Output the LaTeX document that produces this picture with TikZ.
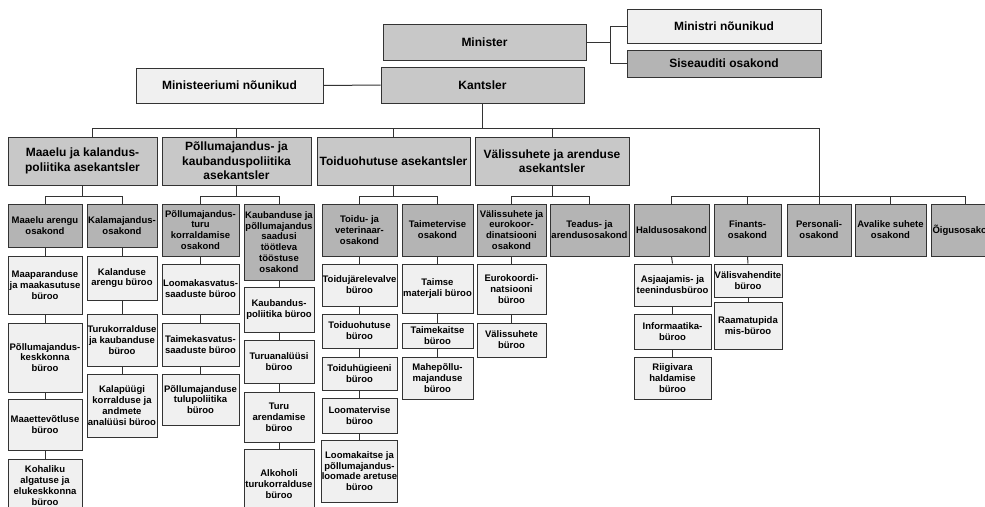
\documentclass[tikz,border=0pt]{standalone}
\usepackage{fontspec}
\setmainfont{Liberation Sans}
\usepackage{tikz}

\definecolor{leadgray}{HTML}{C8C8C8}
\definecolor{deptgray}{HTML}{B4B4B4}
\definecolor{officegray}{HTML}{F0F0F0}
\definecolor{edgegray}{HTML}{333333}

\tikzset{
  orgbox/.style={draw=edgegray, line width=1pt, align=center, inner sep=0pt},
  leadbox/.style={orgbox, fill=leadgray, font=\bfseries\fontsize{12}{14.5}\selectfont},
  advisebox/.style={orgbox, fill=officegray, font=\bfseries\fontsize{12}{14.5}\selectfont},
  auditbox/.style={orgbox, fill=deptgray, font=\bfseries\fontsize{12}{14.5}\selectfont},
  deptbox/.style={orgbox, fill=deptgray, font=\bfseries\fontsize{9.5}{10.8}\selectfont},
  officebox/.style={orgbox, fill=officegray, font=\bfseries\fontsize{9.5}{10.8}\selectfont},
  link/.style={draw=edgegray, line width=1pt}
}

% box from its corners: name, style, x1, y1, x2, y2, text
\newcommand{\orgnode}[7]{%
  \pgfmathsetmacro{\orgw}{#5-#3}\pgfmathsetmacro{\orgh}{#6-#4}%
  \node[#2, minimum width=\orgw pt, minimum height=\orgh pt] (#1) at ({(#3+#5)/2},{(#4+#6)/2}) {#7};}

\begin{document}
\begin{tikzpicture}[x=1pt, y=-1pt]
  \useasboundingbox (0,0) rectangle (985,506);
  \clip (0,0) rectangle (985,506);

  % Top
  \orgnode{minister}{leadbox}{383}{24}{586}{60}{Minister}
  \orgnode{kantsler}{leadbox}{381}{67}{584}{103}{Kantsler}
  \orgnode{minNoun}{advisebox}{136}{68}{323}{103}{Ministeeriumi nõunikud}
  \orgnode{ministriNoun}{advisebox}{627}{9}{821}{43}{Ministri nõunikud}
  \orgnode{siseaudit}{auditbox}{627}{50}{821}{77}{Siseauditi osakond}

  % Asekantslers
  \orgnode{maaelu}{leadbox}{8}{137}{157}{185}{Maaelu ja kalandus-\\poliitika asekantsler}
  \orgnode{pmKaub}{leadbox}{162}{137}{311}{185}{Põllumajandus- ja\\kaubanduspoliitika\\asekantsler}
  \orgnode{toiduohutus}{leadbox}{317}{137}{470}{185}{Toiduohutuse asekantsler}
  \orgnode{valissuhted}{leadbox}{475}{137}{629}{185}{Välissuhete ja arenduse\\asekantsler}

  % Osakonnad
  \orgnode{maaArengu}{deptbox}{8}{204}{82}{247}{Maaelu arengu\\osakond}
  \orgnode{kalamaj}{deptbox}{87}{204}{157}{247}{Kalamajandus-\\osakond}
  \orgnode{pmTuru}{deptbox}{162}{204}{239}{256}{Põllumajandus-\\turu\\korraldamise\\osakond}
  \orgnode{kaubTooste}{deptbox}{244}{204}{314}{280}{Kaubanduse ja\\põllumajandus\\saadusi\\töötleva\\tööstuse\\osakond}
  \orgnode{toiduVet}{deptbox}{322}{204}{397}{256}{Toidu- ja\\veterinaar-\\osakond}
  \orgnode{taimetervis}{deptbox}{402}{204}{473}{256}{Taimetervise\\osakond}
  \orgnode{valisEuro}{deptbox}{477}{204}{546}{256}{Välissuhete ja\\eurokoor-\\dinatsiooni\\osakond}
  \orgnode{teadus}{deptbox}{550}{204}{629}{256}{Teadus- ja\\arendusosakond}
  \orgnode{haldus}{deptbox}{634}{204}{709}{256}{Haldusosakond}
  \orgnode{finants}{deptbox}{714}{204}{781}{256}{Finants-\\osakond}
  \orgnode{personali}{deptbox}{787}{204}{851}{256}{Personali-\\osakond}
  \orgnode{avalike}{deptbox}{855}{204}{926}{256}{Avalike suhete\\osakond}
  \orgnode{oigus}{deptbox}{931}{204}{1000}{256}{Õigusosakond}

  % Bürood
  \orgnode{maaparandus}{officebox}{8}{256}{82}{314}{Maaparanduse\\ja maakasutuse\\büroo}
  \orgnode{pmKeskkond}{officebox}{8}{323}{82}{392}{Põllumajandus-\\keskkonna\\büroo}
  \orgnode{maaettevotlus}{officebox}{8}{399}{82}{450}{Maaettevõtluse\\büroo}
  \orgnode{kohalik}{officebox}{8}{459}{82}{512}{Kohaliku\\algatuse ja\\elukeskkonna\\büroo}

  \orgnode{kalArengu}{officebox}{87}{256}{157}{300}{Kalanduse\\arengu büroo}
  \orgnode{turukorraldus}{officebox}{87}{314}{157}{366}{Turukorralduse\\ja kaubanduse\\büroo}
  \orgnode{kalapuuk}{officebox}{87}{374}{157}{437}{Kalapüügi\\korralduse ja\\andmete\\analüüsi büroo}

  \orgnode{loomakasv}{officebox}{162}{264}{239}{314}{Loomakasvatus-\\saaduste büroo}
  \orgnode{taimekasv}{officebox}{162}{323}{239}{366}{Taimekasvatus-\\saaduste büroo}
  \orgnode{tulupol}{officebox}{162}{374}{239}{425}{Põllumajanduse\\tulupoliitika\\büroo}

  \orgnode{kaubPol}{officebox}{244}{287}{314}{332}{Kaubandus-\\poliitika büroo}
  \orgnode{turuanal}{officebox}{244}{340}{314}{383}{Turuanalüüsi\\büroo}
  \orgnode{turuAren}{officebox}{244}{392}{314}{442}{Turu\\arendamise\\büroo}
  \orgnode{alkohol}{officebox}{244}{449}{314}{519}{Alkoholi\\turukorralduse\\büroo}

  \orgnode{jarelevalve}{officebox}{322}{264}{397}{306}{Toidujärelevalve\\büroo}
  \orgnode{toiduohutusB}{officebox}{322}{314}{397}{348}{Toiduohutuse\\büroo}
  \orgnode{hygieen}{officebox}{322}{357}{397}{390}{Toiduhügieeni\\büroo}
  \orgnode{loomatervis}{officebox}{322}{398}{397}{433}{Loomatervise\\büroo}
  \orgnode{loomakaitse}{officebox}{322}{440}{397}{502}{Loomakaitse ja\\põllumajandus-\\loomade aretuse\\büroo}

  \orgnode{taimseMat}{officebox}{402}{264}{473}{313}{Taimse\\materjali büroo}
  \orgnode{taimekaitse}{officebox}{402}{323}{473}{348}{Taimekaitse\\büroo}
  \orgnode{mahe}{officebox}{402}{357}{473}{399}{Mahepõllu-\\majanduse\\büroo}

  \orgnode{eurokoord}{officebox}{477}{264}{546}{314}{Eurokoordi-\\natsiooni\\büroo}
  \orgnode{valissuhtedB}{officebox}{477}{323}{546}{357}{Välissuhete\\büroo}

  \orgnode{asjaajamis}{officebox}{634}{264}{711}{306}{Asjaajamis- ja\\teenindusbüroo}
  \orgnode{informaatika}{officebox}{634}{314}{711}{349}{Informaatika-\\büroo}
  \orgnode{riigivara}{officebox}{634}{357}{711}{399}{Riigivara\\haldamise\\büroo}

  \orgnode{valisvahend}{officebox}{714}{264}{782}{297}{Välisvahendite\\büroo}
  \orgnode{raamatupid}{officebox}{714}{302}{782}{349}{Raamatupida\\mis-büroo}

  % Links at the top
  \coordinate (fork) at (610,0);
  \draw[link] (minNoun.east) -- (kantsler.west);
  \draw[link] (minister.east) -- (minister.east -| fork);
  \draw[link] (ministriNoun.west) -| (fork |- siseaudit.west) -- (siseaudit.west);

  % Main bus
  \coordinate (busTop) at (0,128);
  \coordinate (busLow) at (0,196);
  \draw[link] (kantsler.south) -- (kantsler.south |- busTop);
  \draw[link] ([xshift=10pt]maaelu.north) -- ([xshift=10pt]maaelu.north |- busTop)
    -- (personali.north |- busTop) -- (personali.north);
  \foreach \n in {pmKaub, toiduohutus, valissuhted}
    \draw[link] (\n.north) -- (\n.north |- busTop);

  % Buses under the asekantslers
  \foreach \p/\a/\b in {maaelu/maaArengu/kalamaj, pmKaub/pmTuru/kaubTooste,
      toiduohutus/toiduVet/taimetervis, valissuhted/valisEuro/teadus}{
    \draw[link] (\p.south) -- (\p.south |- busLow);
    \draw[link] (\a.north) -- (\a.north |- busLow) -- (\b.north |- busLow) -- (\b.north);
  }
  \draw[link] (haldus.north) |- (oigus.north |- busLow) -- (oigus.north);
  \foreach \n in {finants, avalike}
    \draw[link] (\n.north) -- (\n.north |- busLow);

  % Chains of bürood
  \foreach \a/\b in {maaArengu/maaparandus, maaparandus/pmKeskkond, pmKeskkond/maaettevotlus,
      maaettevotlus/kohalik, kalamaj/kalArengu, kalArengu/turukorraldus, turukorraldus/kalapuuk,
      pmTuru/loomakasv, loomakasv/taimekasv, taimekasv/tulupol,
      kaubTooste/kaubPol, kaubPol/turuanal, turuanal/turuAren, turuAren/alkohol,
      toiduVet/jarelevalve, jarelevalve/toiduohutusB, toiduohutusB/hygieen, hygieen/loomatervis,
      loomatervis/loomakaitse, taimetervis/taimseMat, taimseMat/taimekaitse, taimekaitse/mahe,
      valisEuro/eurokoord, eurokoord/valissuhtedB, haldus/asjaajamis, asjaajamis/informaatika,
      informaatika/riigivara, finants/valisvahend, valisvahend/raamatupid}
    \draw[link] (\a.south) -- (\b.north);
\end{tikzpicture}
\end{document}
